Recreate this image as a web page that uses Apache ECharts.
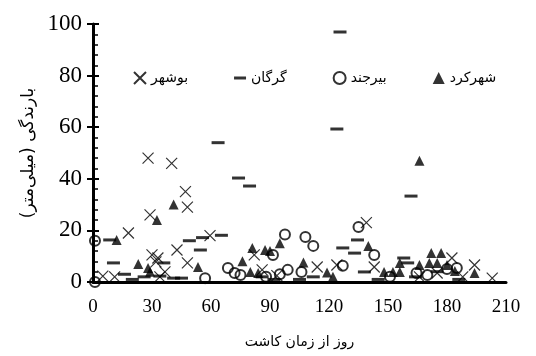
<!DOCTYPE html>
<html>
<head>
<meta charset="utf-8">
<style>
  html, body { margin: 0; padding: 0; background: #fff; }
  #chart { width: 536px; height: 356px; }
</style>
<script src="https://cdn.jsdelivr.net/npm/echarts@6/dist/echarts.min.js"></script>
</head>
<body>
<div id="chart"></div>
<script>
// [روز, بارندگی]
var bushehr = [[5,2.3],[11,2],[18,19],[28,48],[29,26],[30,10.5],[32,7.8],[33,9.3],[34,2],[36.6,3.9],
  [40,46],[42.7,12.4],[47,35],[48,29],[48,7.4],[59.5,18],[82,10.5],[86,4.7],[93.5,2.5],[114,5.8],
  [124,6.6],[139,23],[143,5.8],[166,2],[175,3.5],[182.5,9.3],[188,2],[194,6.6],[203,1.5]]
var gorgan = [[8.5,16.3],[10.4,7.4],[16,3],[20,1],[26,2],[34,2.3],[36,7.4],[41,1.5],[45,1.5],[49,16],
  [54.6,12.4],[55.7,17.2],[63.6,54],[65.3,18.1],[74,40.3],[79.6,37.2],[86,2],[92,1],[105,1],[112,2],
  [125.6,96.9],[124,59.3],[127,13.2],[133,11.2],[134.5,16.3],[138,3.9],[145,1],[158,9.3],[160,7.4],
  [161.7,33.3],[164,2],[175,4],[186,1]]
var birjand = [[1,16],[1,0],[57,1.5],[68.6,5.4],[72,3.5],[75,2.7],[88,2],[91.5,10.5],[95,3],[97.6,18.4],
  [99,4.7],[106,3.9],[108,17.4],[112,14],[127,6.3],[135,21.3],[143,10.5],[151,2],[164.5,3.5],[170,2.7],
  [180,5],[185,5.4]]
var shahrekord = [[12,16.3],[23,7],[28,5.4],[29,4],[32.5,24],[41,30],[53.4,5.8],[76,8],[80,3.9],[81,13.2],
  [84,3.5],[87.5,12.4],[90,12],[95,15],[107,7.6],[119,3.7],[122,2],[140,14],[148,3.9],[152.5,3.9],
  [156,3.9],[156,7.4],[166,47],[166,6.6],[171,7.4],[172,11.2],[175,7.4],[177,11.2],[180,6.6],[184,4.3],[194,3.5]]
var names = ['بوشهر', 'گرگان', 'بیرجند', 'شهرکرد']

var serifFont = 'Liberation Serif'
var faFont = 'DejaVu Sans'

// نشانه‌ها
var crossPath = 'path://M0,0L10,10M10,0L0,10'
var dashPath = 'path://M0,0M0,4.5L12,4.5L12,7.5L0,7.5ZM12,12'

var myChart = echarts.init(document.getElementById('chart'))
myChart.setOption({
  animation: false,
  grid: { left: 93, right: 30, top: 24, bottom: 74 },
  legend: {
    left: 128,
    top: 66,
    itemGap: 46,
    itemWidth: 12,
    itemHeight: 12,
    textStyle: { fontFamily: faFont, fontSize: 14, color: '#000' },
    data: [
      { name: names[0] },
      { name: names[1], icon: dashPath },
      { name: names[2] },
      { name: names[3] }
    ]
  },
  xAxis: {
    type: 'value',
    min: 0, max: 210, interval: 30,
    name: 'روز از زمان کاشت',
    nameLocation: 'middle',
    nameGap: 53,
    nameTextStyle: { fontFamily: faFont, fontSize: 14, color: '#000' },
    axisLine: { lineStyle: { color: '#000', width: 3 } },
    axisTick: { show: false },
    splitLine: { show: false },
    axisLabel: { fontFamily: serifFont, fontSize: 19, color: '#000', margin: 16 }
  },
  yAxis: [
    {
      type: 'value',
      min: 0, max: 100, interval: 20,
      name: 'بارندگی (میلی‌متر)',
      nameLocation: 'middle',
      nameGap: 50,
      nameTextStyle: { fontFamily: faFont, fontSize: 17, color: '#000' },
      axisLine: { show: true, lineStyle: { color: '#000', width: 3 } },
      axisTick: { show: true, length: 6, lineStyle: { color: '#000', width: 2 } },
      splitLine: { show: false },
      axisLabel: { fontFamily: serifFont, fontSize: 23, color: '#000', margin: 11 }
    },
    {
      // فقط برای تیک‌های داخلی
      type: 'value',
      position: 'left',
      min: 0, max: 100, interval: 20,
      axisLine: { show: false },
      axisTick: { show: true, inside: true, length: 6, lineStyle: { color: '#000', width: 2 } },
      minorTick: { show: true, splitNumber: 5, length: 5, lineStyle: { color: '#000', width: 1.5 } },
      splitLine: { show: false },
      axisLabel: { show: false }
    }
  ],
  series: [
    {
      name: names[0],
      type: 'scatter',
      symbol: crossPath,
      symbolSize: 11,
      itemStyle: { color: 'rgba(0,0,0,0)', borderColor: '#000', borderWidth: 1.2 },
      data: bushehr
    },
    {
      name: names[1],
      type: 'scatter',
      symbol: 'rect',
      symbolSize: [13, 3],
      itemStyle: { color: '#000' },
      data: gorgan
    },
    {
      name: names[2],
      type: 'scatter',
      symbol: 'circle',
      symbolSize: 10,
      itemStyle: { color: 'rgba(0,0,0,0)', borderColor: '#000', borderWidth: 2 },
      data: birjand
    },
    {
      name: names[3],
      type: 'scatter',
      symbol: 'triangle',
      symbolSize: 10,
      itemStyle: { color: '#000' },
      data: shahrekord
    }
  ]
})
</script>
</body>
</html>
